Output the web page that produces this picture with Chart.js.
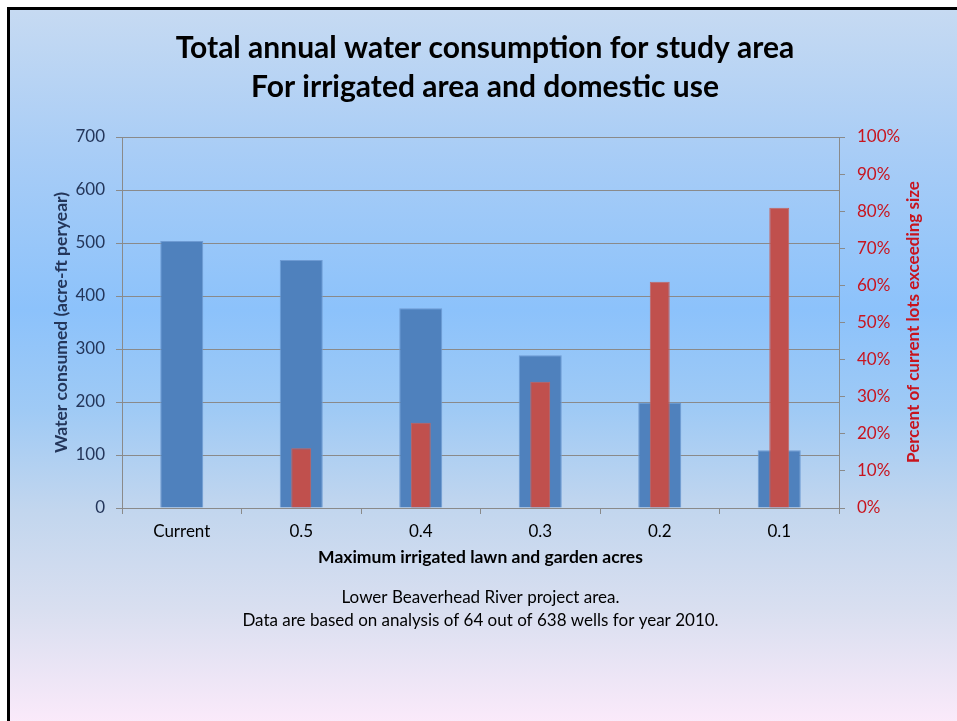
<!DOCTYPE html>
<html>
<head>
<meta charset="utf-8">
<script src="https://cdn.jsdelivr.net/npm/chart.js@4.4.1/dist/chart.umd.min.js"></script>
<style>
  html, body { margin: 0; padding: 0; background: #ffffff; overflow: hidden; }
  #frame {
    position: absolute; left: 7px; top: 7px; width: 950px; height: 714px;
    box-sizing: border-box;
    border-left: 3px solid #000; border-top: 3px solid #000;
    background: linear-gradient(to bottom,
      #c6daf2 0px, #a9cdf6 140px, #8cc2fb 300px, #9fcaf5 400px,
      #c2d6ee 500px, #d9dff0 600px, #fbeafa 714px);
  }
  #wrap { position: absolute; left: 0; top: 0; width: 957px; height: 721px; }
</style>
</head>
<body>
<div id="frame"></div>
<div id="wrap"><canvas id="chart" width="957" height="721"></canvas></div>
<script>
// Irrigated acreage limits and resulting water use / share of lots affected
const categories = ['Current', '0.5', '0.4', '0.3', '0.2', '0.1'];
const waterConsumed = [504, 468, 377, 288, 199, 109];      // acre-ft per year
const lotsExceeding = [null, 16.1, 23.0, 34.0, 61.0, 80.9]; // percent of current lots
const leftTicks = [0, 100, 200, 300, 400, 500, 600, 700];
const rightTicks = [0, 10, 20, 30, 40, 50, 60, 70, 80, 90, 100];

const titleLines = ['Total annual water consumption for study area', 'For irrigated area and domestic use'];
const captionLines = ['Lower Beaverhead River project area.',
  'Data are based on analysis of 64 out of 638 wells for year 2010.'];
const rightTitle = 'Percent of current lots exceeding size';

const FONT = 'Lato, "Open Sans", sans-serif';
const GRID = '#8a8a8a';
const LEFT_COLOR = '#24365a';
const RIGHT_COLOR = '#c8141e';

const decorations = {
  id: 'decorations',
  afterDraw(chart) {
    const ctx = chart.ctx;
    const area = chart.chartArea;
    const cx = (area.left + area.right) / 2;
    ctx.save();
    ctx.fillStyle = '#000';
    ctx.textAlign = 'center';
    ctx.textBaseline = 'alphabetic';
    ctx.font = 'bold 30px ' + FONT;
    ctx.fillText(titleLines[0], 485, 58);
    ctx.fillText(titleLines[1], 485, 97);

    ctx.font = '17px ' + FONT;
    ctx.textBaseline = 'middle';
    ctx.fillText(captionLines[0], cx, 598);
    ctx.fillText(captionLines[1], cx, 621);

    ctx.translate(914, 322);
    ctx.rotate(-Math.PI / 2);
    ctx.font = 'bold 17px ' + FONT;
    ctx.fillStyle = RIGHT_COLOR;
    ctx.fillText(rightTitle, 0, 0);
    ctx.restore();
  }
};

new Chart(document.getElementById('chart'), {
  type: 'bar',
  data: {
    labels: categories,
    datasets: [
      {
        label: 'Percent of current lots exceeding size',
        data: lotsExceeding,
        yAxisID: 'y1',
        backgroundColor: '#c0504d',
        borderColor: '#c46662',
        borderWidth: 1,
        grouped: false,
        barPercentage: 0.167,
        categoryPercentage: 1,
        order: 1
      },
      {
        label: 'Water consumed (acre-ft peryear)',
        data: waterConsumed,
        yAxisID: 'y',
        backgroundColor: '#4f81bd',
        borderColor: '#6e9bd3',
        borderWidth: 1,
        grouped: false,
        barPercentage: 0.36,
        categoryPercentage: 1,
        order: 2
      }
    ]
  },
  options: {
    responsive: false,
    animation: false,
    layout: { padding: { left: 30, right: 10, top: 137, bottom: 151 } },
    plugins: {
      legend: { display: false },
      title: { display: false },
      tooltip: { enabled: false }
    },
    scales: {
      x: {
        position: 'bottom',
        grid: { offset: true, drawOnChartArea: false, color: GRID, tickLength: 6, tickColor: GRID },
        border: { color: GRID },
        ticks: { color: '#000', font: { family: FONT, size: 17 }, padding: 7 },
        title: {
          display: true, text: 'Maximum irrigated lawn and garden acres',
          color: '#000', font: { family: FONT, size: 17.5, weight: 'bold' }, padding: { bottom: 2 }
        },
        afterFit(scale) { scale.height = 62; }
      },
      y: {
        position: 'left',
        min: 0, max: 700,
        afterBuildTicks(scale) { scale.ticks = leftTicks.map(v => ({ value: v })); },
        grid: { color: GRID, tickLength: 6, tickColor: GRID },
        border: { color: GRID },
        ticks: { color: LEFT_COLOR, font: { family: FONT, size: 17 }, padding: 11 },
        title: {
          display: true, text: 'Water consumed (acre-ft peryear)',
          color: LEFT_COLOR, font: { family: FONT, size: 17.5, weight: 'bold' }, padding: { top: 21 }
        },
        afterFit(scale) { scale.width = 92; }
      },
      y1: {
        position: 'right',
        min: 0, max: 100,
        afterBuildTicks(scale) { scale.ticks = rightTicks.map(v => ({ value: v })); },
        grid: { drawOnChartArea: false, color: GRID, tickLength: 6, tickColor: GRID },
        border: { color: GRID },
        ticks: { color: RIGHT_COLOR, font: { family: FONT, size: 17 }, padding: 12,
                 callback: v => v + '%' },
        afterFit(scale) { scale.width = 108; }
      }
    }
  },
  plugins: [decorations]
});
</script>
</body>
</html>
